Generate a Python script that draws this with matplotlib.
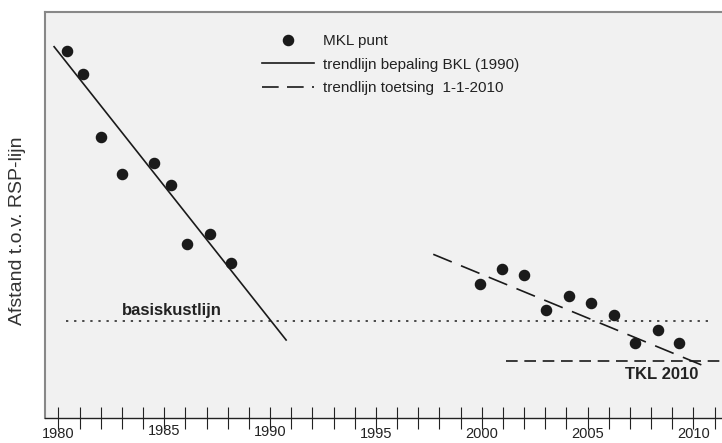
import numpy as np
import matplotlib.pyplot as plt
from matplotlib.lines import Line2D
from matplotlib.transforms import ScaledTranslation

plt.rcParams['font.family'] = ['Liberation Sans', 'DejaVu Sans']

# MKL punten (jaar, afstand in willekeurige eenheid)
mkl_jaar_oud = [1980.40, 1981.18, 1982.02, 1983.02, 1984.52,
                1985.32, 1986.07, 1987.15, 1988.16]
mkl_afst_oud = [367.3, 344.0, 281.0, 244.0, 255.6, 233.3, 174.6, 184.0, 155.6]

mkl_jaar_new = [1999.92, 2000.96, 2002.01, 2003.04, 2004.11,
                2005.15, 2006.24, 2007.26, 2008.31, 2009.33]
mkl_afst_new = [134.3, 149.6, 143.3, 108.3, 122.3, 115.0, 103.3, 75.0, 88.3, 75.3]

# trendlijnen (begin- en eindpunt)
trend_bkl_x = [1979.80, 1990.76]
trend_bkl_y = [371.6, 78.3]
trend_toets_x = [1997.71, 2010.47]
trend_toets_y = [164.0, 52.6]

# horizontale lijnen
bkl_x = [1980.36, 2010.86]
bkl_y = 97.6
tkl_x = [2001.15, 2011.35]
tkl_y = 57.6

jaren = list(range(1980, 2012))
labels = [str(j) if j % 5 == 0 else '' for j in jaren]

fig = plt.figure(figsize=(7.22, 4.43), dpi=100)
ax = fig.add_axes([45 / 722, 1 - 418.3 / 443, 1 - 45 / 722, (418.3 - 12) / 443])
ax.set_facecolor('#f1f1f1')

ax.plot(mkl_jaar_oud + mkl_jaar_new, mkl_afst_oud + mkl_afst_new, 'o',
        color='#1a1a1a', ms=7.3, zorder=4)
ax.plot(trend_bkl_x, trend_bkl_y, '-', color='#1a1a1a', lw=1.2)
ax.plot(trend_toets_x, trend_toets_y, color='#1a1a1a', lw=1.2,
        dashes=(12, 6))
ax.plot(bkl_x, [bkl_y, bkl_y], color='#1a1a1a', lw=1.1, dashes=(1.5, 3.8))
ax.plot(tkl_x, [tkl_y, tkl_y], color='#1a1a1a', lw=1.2, dashes=(7, 4))

ax.text(1983.02, bkl_y + 3, 'basiskustlijn', fontsize=12, fontweight='bold',
        color='#222222', va='bottom')
ax.text(2006.75, tkl_y - 6, 'TKL 2010', fontsize=12, fontweight='bold',
        color='#222222', va='top')

ax.set_xlim(1979.37, 2011.35)
ax.set_ylim(0, 406.3)
ax.set_yticks([])
ax.set_xticks(jaren)
ax.set_xticklabels(labels, fontsize=10.5, color='#222222')
ax.tick_params(axis='x', direction='inout', length=16, width=0.8,
               color='#222222', pad=-1.5)

# verspringende jaartallen zoals in het origineel
offsets = {1985: 3, 1990: 2}
for j, lab in zip(jaren, ax.get_xticklabels()):
    if j in offsets:
        lab.set_transform(lab.get_transform() +
                          ScaledTranslation(0, offsets[j] / 100, fig.dpi_scale_trans))

for s in ['left', 'top']:
    ax.spines[s].set_color('#888888')
    ax.spines[s].set_linewidth(1.5)
ax.spines['right'].set_visible(False)
ax.spines['bottom'].set_color('#222222')
ax.spines['bottom'].set_linewidth(1.0)

handles = [
    Line2D([], [], ls='none', marker='o', color='#1a1a1a', ms=7.3),
    Line2D([], [], ls='-', color='#1a1a1a', lw=1.2),
    Line2D([], [], color='#1a1a1a', lw=1.2, dashes=(10, 5)),
]
leg = ax.legend(handles, ['MKL punt', 'trendlijn bepaling BKL (1990)',
                          'trendlijn toetsing  1-1-2010'],
                loc='upper left', bbox_to_anchor=(0.32, 0.945), frameon=False,
                fontsize=11, handlelength=3.4, handletextpad=0.6,
                labelspacing=0.62, borderpad=0, borderaxespad=0, numpoints=1)
for t in leg.get_texts():
    t.set_color('#222222')

fig.text(18 / 722, 1 - 231 / 443, 'Afstand t.o.v. RSP-lijn', rotation=90,
         ha='center', va='center', fontsize=14, color='#333333')

fig.savefig('out.png', dpi=100)
